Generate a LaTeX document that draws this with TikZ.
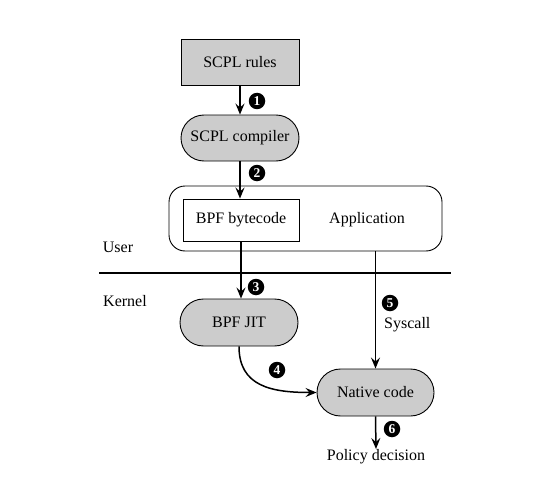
\documentclass[tikz,border=0pt]{standalone}
\usepackage{fontspec}
\setmainfont{Liberation Serif}
\usetikzlibrary{shapes.misc,arrows.meta,calc}
\begin{document}
\begin{tikzpicture}[x=1pt,y=-1pt,
  font=\fontsize{16}{19}\selectfont,
  graybox/.style={draw,line width=0.9pt,fill=gray!40,minimum width=118pt,minimum height=46pt,inner sep=0pt},
  pill/.style={graybox,rounded rectangle},
  arr/.style={line width=1.5pt,-{Stealth[length=11pt,width=9pt,inset=4pt]}},
  badge/.style={circle,fill=black,text=white,minimum size=16.5pt,inner sep=0pt,font=\fontsize{13.5}{14}\selectfont\bfseries},
  lbl/.style={inner sep=0pt}]
\useasboundingbox (0,0) rectangle (552,487);
% nodes
\node[graybox] (rules) at (240,62) {SCPL rules};
\node[pill] (compiler) at (240,138) {SCPL compiler};
\node[draw,line width=0.9pt,rounded corners=16pt,minimum width=273pt,minimum height=65pt,inner sep=0pt] (app) at (305.5,218.5) {};
\node[draw,line width=0.9pt,minimum width=116pt,minimum height=42pt,inner sep=0pt] (bpf) at (241,220) {BPF bytecode};
\node[lbl] (apptext) at (367,220) {Application};
\node[lbl] (user) at (118,247) {User};
\node[lbl] (kernel) at (125,301) {Kernel};
\coordinate (sepL) at (99,273);
\coordinate (sepR) at (451,273);
\draw[line width=1.8pt] (sepL) -- (sepR);
\node[pill,minimum height=47pt] (jit) at (239,322.5) {BPF JIT};
\node[pill,minimum width=117pt,minimum height=47pt] (native) at (375.5,392.5) {Native code};
\node[lbl,anchor=north] (policy) at (376,449) {Policy decision};
\node[lbl,anchor=west] (syscall) at (384,325) {Syscall};
% connectors
\draw[arr] (rules) -- (compiler);
\draw[arr] (compiler.south) -- (compiler.south |- bpf.north);
\draw[arr] (bpf.south) -- (bpf.south |- jit.north);
\draw[arr] (jit.south) .. controls ($(jit.south)+(0,40)$) and ($(native.west)+(-45,0)$) .. (native.west);
\draw[arr] (native.north |- app.south) -- (native.north);
\draw[arr] (native.south) -- (policy.north);
% badges
\node[badge] (b1) at (257,101) {1};
\node[badge] (b2) at (257,173) {2};
\node[badge] (b3) at (256,287) {3};
\node[badge] (b4) at (277,370) {4};
\node[badge] (b5) at (390,303) {5};
\node[badge] (b6) at (392,429) {6};
\end{tikzpicture}
\end{document}
